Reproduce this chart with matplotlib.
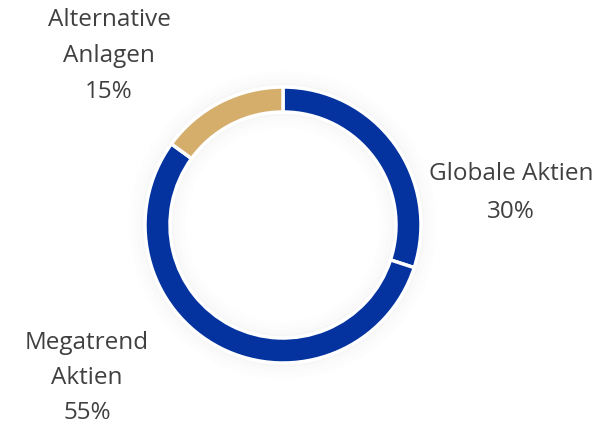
import matplotlib.pyplot as plt
from matplotlib.patches import Wedge

# data
labels = ['Globale Aktien', 'Megatrend\nAktien', 'Alternative\nAnlagen']
values = [30, 55, 15]
colors = ['#0433a0', '#0433a0', '#d5ae6c']

W, H = 610, 428
fig = plt.figure(figsize=(W / 100, H / 100), dpi=100)
ax = fig.add_axes([0, 0, 1, 1])
ax.set_xlim(0, W)
ax.set_ylim(0, H)
ax.set_aspect('equal')
ax.axis('off')

cx, cy, r = 283, H - 225, 138

# soft shadow on both sides of the ring
for i, a in enumerate([0.03, 0.02, 0.012, 0.006]):
    ax.add_patch(Wedge((cx, cy), r + 4 + i * 4, 0, 360, width=4, color='k', alpha=a, lw=0))
    ax.add_patch(Wedge((cx, cy), r - 25 - i * 4, 0, 360, width=4, color='k', alpha=a, lw=0))

ax.pie(values, colors=colors, startangle=90, counterclock=False,
       center=(cx, cy), radius=r, frame=True,
       wedgeprops=dict(width=25, edgecolor='white', linewidth=2.5))
ax.set_xlim(0, W)
ax.set_ylim(0, H)
ax.axis('off')

txt = dict(ha='center', va='center', fontsize=17.5, color='#404040',
           family=['Open Sans', 'DejaVu Sans'])

label_pos = [(511, [174, 212]), (87, [343, 378, 413]), (109, [20, 56, 92])]
for lab, v, (x, ys) in zip(labels, values, label_pos):
    lines = lab.split('\n') + [f'{v}%']
    for line, y in zip(lines, ys):
        ax.text(x, H - y, line, **txt)

plt.savefig('out.png', dpi=100)
